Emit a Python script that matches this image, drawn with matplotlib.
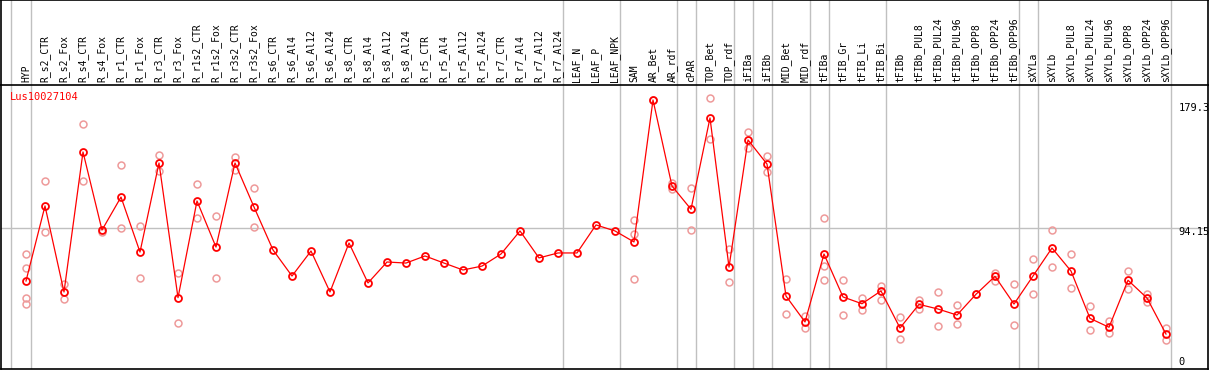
import matplotlib
matplotlib.use("Agg")
import matplotlib.pyplot as plt

# sample names (columns)
samples = ["HYP", "R_s2_CTR", "R_s2_Fox", "R_s4_CTR", "R_s4_Fox", "R_r1_CTR", "R_r1_Fox",
           "R_r3_CTR", "R_r3_Fox", "R_r1s2_CTR", "R_r1s2_Fox", "R_r3s2_CTR", "R_r3s2_Fox",
           "R_s6_CTR", "R_s6_Al4", "R_s6_Al12", "R_s6_Al24", "R_s8_CTR", "R_s8_Al4",
           "R_s8_Al12", "R_s8_Al24", "R_r5_CTR", "R_r5_Al4", "R_r5_Al12", "R_r5_Al24",
           "R_r7_CTR", "R_r7_Al4", "R_r7_Al12", "R_r7_Al24", "LEAF_N", "LEAF_P", "LEAF_NPK",
           "SAM", "AR_Bet", "AR_rdf", "cPAR", "TOP_Bet", "TOP_rdf", "iFIBa", "iFIBb",
           "MID_Bet", "MID_rdf", "tFIBa", "tFIB_Gr", "tFIB_Li", "tFIB_Bi", "tFIBb",
           "tFIBb_PUL8", "tFIBb_PUL24", "tFIBb_PUL96", "tFIBb_OPP8", "tFIBb_OPP24",
           "tFIBb_OPP96", "sXYLa", "sXYLb", "sXYLb_PUL8", "sXYLb_PUL24", "sXYLb_PUL96",
           "sXYLb_OPP8", "sXYLb_OPP24", "sXYLb_OPP96"]

# mean expression per sample
means = [59.2, 109.0, 51.9, 144.8, 93.0, 114.9, 78.4, 137.5, 48.1, 112.3, 81.7, 137.5, 108.3,
         79.8, 62.5, 79.1, 51.9, 84.4, 57.9, 71.8, 71.1, 75.8, 71.1, 66.5, 69.1, 77.1, 92.4,
         74.5, 77.8, 77.8, 96.4, 92.4, 85.1, 179.3, 122.2, 106.8, 167.4, 68.4, 152.8, 136.8,
         49.2, 32.0, 77.1, 48.6, 44.1, 52.6, 28.0, 43.7, 40.6, 36.6, 50.4, 62.3, 43.9, 62.5,
         81.1, 65.8, 34.4, 28.5, 59.7, 47.9, 24.0]

# individual replicates (empty where only the mean is shown)
replicates = [[76.9, 67.8, 48.1, 43.9], [125.3, 91.7], [57.2, 47.0], [163.2, 125.3], [91.7],
              [136.0, 94.2], [95.5, 61.2], [142.8, 132.2], [64.3, 31.3], [123.6, 100.8],
              [102.3, 61.2], [141.5, 132.6], [120.9, 95.0],
              [], [], [], [], [], [], [], [], [], [], [], [], [], [], [], [], [], [], [],
              [99.7, 90.4, 60.5], [179.3], [124.3, 120.2], [120.9, 93.0], [180.4, 153.2],
              [80.5, 58.6], [158.1, 147.4], [142.1, 131.3], [60.5, 37.3], [36.0, 28.0],
              [101.0, 69.3, 59.9], [59.9, 36.6], [47.7, 39.9], [55.7, 46.6], [35.1, 20.5],
              [46.6, 40.8], [51.7, 29.3], [43.3, 30.7], [50.4], [64.5, 59.2], [57.0, 30.0],
              [73.8, 50.4], [92.8, 68.3], [76.9, 54.5], [42.6, 26.5], [32.6, 24.5],
              [65.8, 53.9], [50.6, 45.5], [28.0, 20.0]]

group_ends = [0, 28, 31, 34, 35, 37, 38, 39, 41, 42, 45, 52, 53, 60]
gene = "Lus10027104"

W, H = 1209, 370
fig = plt.figure(figsize=(W / 100, H / 100), dpi=100)
xmin, xmax = (0.5 - 26) / 19, (1207.5 - 26) / 19
mono = "DejaVu Sans Mono"

# header with sample names
hax = fig.add_axes([0.5 / W, (H - 85) / H, 1207 / W, 85 / H])
hax.set_xlim(xmin, xmax)
hax.set_ylim(0, 1)
hax.set_xticks([])
hax.set_yticks([])
hax.spines["bottom"].set_visible(False)
for s in hax.spines.values():
    s.set_linewidth(1.2)
for i, name in enumerate(samples):
    hax.text(i, 2.5 / 85, name, rotation=90, ha="center", va="bottom",
             fontsize=7, family=mono, color="black")

# main plot
ax = fig.add_axes([0.5 / W, 1 / H, 1207 / W, 284 / H])
ax.set_xlim(xmin, xmax)
ax.set_ylim(0.8, 189.25)
ax.set_xticks([])
ax.set_yticks([])
for s in ax.spines.values():
    s.set_linewidth(1.2)

sep = [-0.8] + [g + 0.25 for g in group_ends]
for a in (ax, hax):
    for x in sep:
        a.axvline(x, color="#c0c0c0", lw=1.0, zorder=0)
ax.axhline(94.15, color="#c0c0c0", lw=1.0, zorder=0)

for i, reps in enumerate(replicates):
    if reps:
        ax.plot([i] * len(reps), reps, "o", ms=5, mfc="none", mec="#ee9a9a", mew=1.1, zorder=2)

ax.plot(range(len(means)), means, "-", color="red", lw=0.9, zorder=3)
ax.plot(range(len(means)), means, "o", ms=5, mfc="none", mec="red", mew=1.3, zorder=4)

ax.text(9 / 1207, 1 - 12 / 284, gene, transform=ax.transAxes, color="red",
        fontsize=7.5, family=mono, va="center", ha="left")

for val, ypix in [("179.3", 107.7), ("94.15", 231.7), ("0", 361.7)]:
    ax.text(1178 / 1207, (369 - ypix) / 284, val, transform=ax.transAxes,
            fontsize=7.5, family=mono, va="center", ha="left")

fig.savefig("out.png", dpi=100)
